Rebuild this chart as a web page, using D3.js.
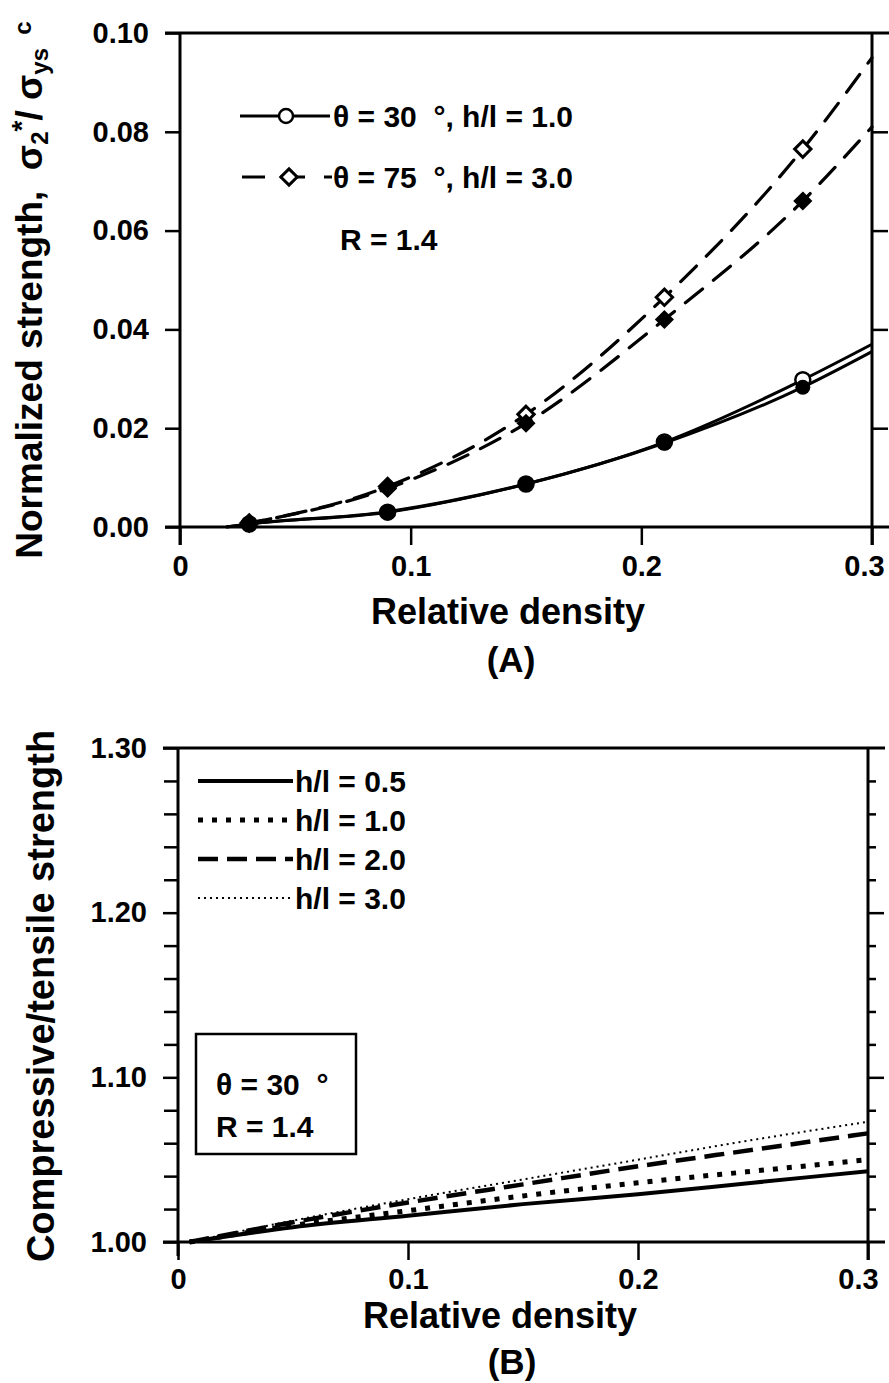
<!DOCTYPE html>
<html>
<head>
<meta charset="utf-8">
<script src="https://cdn.jsdelivr.net/npm/d3@7"></script>
<style>
  html, body { margin: 0; padding: 0; background: #fff; }
  svg { display: block; }
  text { font-family: "Liberation Sans", Arial, Helvetica, sans-serif; font-weight: bold; fill: #000; white-space: pre; }
</style>
</head>
<body>
<svg id="chart" width="889" height="1383"></svg>
<script>
// ---------------- DATA ----------------
// Panel A
const xTicksA = [0, 0.1, 0.2, 0.3];
const xTickLabelsA = ["0", "0.1", "0.2", "0.3"];
const yTicksA = [0, 0.02, 0.04, 0.06, 0.08, 0.10];
const yTickLabelsA = ["0.00", "0.02", "0.04", "0.06", "0.08", "0.10"];

const markerDensity = [0.03, 0.09, 0.15, 0.21, 0.27];
const solidDensity = [0.02, 0.03, 0.09, 0.15, 0.21, 0.27, 0.30];
const theta30Open   = [0, 0.0006, 0.0030, 0.0087, 0.0172, 0.0298, 0.0370];
const theta30Filled = [0, 0.0006, 0.0031, 0.0087, 0.0170, 0.0283, 0.0355];
const dashedDensity = [0.03, 0.09, 0.15, 0.21, 0.27, 0.30];
const theta75Open   = [0.0008, 0.0082, 0.0228, 0.0465, 0.0765, 0.0950];
const theta75Filled = [0.0008, 0.0078, 0.0210, 0.0420, 0.0660, 0.0810];

const legendA = ["\u03B8 = 30  \u00B0, h/l = 1.0", "\u03B8 = 75  \u00B0, h/l = 3.0"];
const noteA = "R = 1.4";

// Panel B
const xTicksB = [0, 0.1, 0.2, 0.3];
const xTickLabelsB = ["0", "0.1", "0.2", "0.3"];
const yMajorB = [1.00, 1.10, 1.20, 1.30];
const yMajorLabelsB = ["1.00", "1.10", "1.20", "1.30"];
const yMinorB = [1.02, 1.04, 1.06, 1.08, 1.12, 1.14, 1.16, 1.18, 1.22, 1.24, 1.26, 1.28];

const densityB = [0.005, 0.05, 0.10, 0.15, 0.20, 0.25, 0.30];
const hl05 = [1.000, 1.009, 1.016, 1.023, 1.029, 1.036, 1.043];
const hl10 = [1.000, 1.010, 1.019, 1.028, 1.036, 1.043, 1.050];
const hl20 = [1.000, 1.012, 1.024, 1.035, 1.046, 1.056, 1.066];
const hl30 = [1.000, 1.013, 1.026, 1.038, 1.050, 1.062, 1.073];
const legendB = ["h/l = 0.5", "h/l = 1.0", "h/l = 2.0", "h/l = 3.0"];
const boxB = ["\u03B8 = 30  \u00B0", "R = 1.4"];

// ---------------- DRAW ----------------
const svg = d3.select("#chart");
svg.append("rect").attr("width", 889).attr("height", 1383).attr("fill", "#fff");

const AX = 3; // axis stroke width

// ===== Panel A =====
const xA = d3.scaleLinear().domain([0, 0.3]).range([180, 872]);
const yA = d3.scaleLinear().domain([0, 0.10]).range([527, 33]);
const gA = svg.append("g");

// frame
gA.append("line").attr("x1", 165).attr("x2", 889).attr("y1", yA(0.10)).attr("y2", yA(0.10)).attr("stroke", "#000").attr("stroke-width", AX);
gA.append("line").attr("x1", 165).attr("x2", 889).attr("y1", yA(0)).attr("y2", yA(0)).attr("stroke", "#000").attr("stroke-width", AX);
gA.append("line").attr("x1", xA(0)).attr("x2", xA(0)).attr("y1", yA(0.10)).attr("y2", yA(0) + 18).attr("stroke", "#000").attr("stroke-width", AX);
gA.append("line").attr("x1", xA(0.3)).attr("x2", xA(0.3)).attr("y1", yA(0.10)).attr("y2", yA(0) + 18).attr("stroke", "#000").attr("stroke-width", AX);

// axes via d3
const yAxisA = d3.axisLeft(yA).tickValues(yTicksA).tickFormat((d, i) => yTickLabelsA[i]).tickSize(15).tickPadding(16);
const ya = gA.append("g").attr("transform", `translate(${xA(0)},0)`).call(yAxisA);
ya.select(".domain").remove();
ya.selectAll(".tick line").attr("stroke-width", 2.5);
ya.selectAll(".tick text").style("font-size", "29px").attr("font-family", null);

const yAxisAR = d3.axisRight(yA).tickValues(yTicksA.slice(1, 5)).tickFormat("").tickSize(16);
const yar = gA.append("g").attr("transform", `translate(${xA(0.3)},0)`).call(yAxisAR);
yar.select(".domain").remove();
yar.selectAll(".tick line").attr("stroke-width", 2.5);

const xAxisA = d3.axisBottom(xA).tickValues(xTicksA).tickFormat((d, i) => xTickLabelsA[i]).tickSize(18).tickPadding(10);
const xa = gA.append("g").attr("transform", `translate(0,${yA(0)})`).call(xAxisA);
xa.select(".domain").remove();
xa.selectAll(".tick line").attr("stroke-width", 2.5);
xa.selectAll(".tick text").style("font-size", "29px").attr("font-family", null);
xa.selectAll(".tick text").filter(d => d === 0.3).attr("dx", -8);

// curves
const lineA = d3.line().x(d => xA(d[0])).y(d => yA(d[1])).curve(d3.curveMonotoneX);
function zip(xs, ys) { return xs.map((x, i) => [x, ys[i]]); }

gA.append("path").attr("d", lineA(zip(solidDensity, theta30Open))).attr("fill", "none").attr("stroke", "#000").attr("stroke-width", 3);
gA.append("path").attr("d", lineA(zip(solidDensity, theta30Filled))).attr("fill", "none").attr("stroke", "#000").attr("stroke-width", 3);
gA.append("path").attr("d", lineA(zip(dashedDensity, theta75Open))).attr("fill", "none").attr("stroke", "#000").attr("stroke-width", 3.2).attr("stroke-dasharray", "22,14").attr("stroke-linecap", "round");
gA.append("path").attr("d", lineA(zip(dashedDensity, theta75Filled))).attr("fill", "none").attr("stroke", "#000").attr("stroke-width", 3.2).attr("stroke-dasharray", "22,14").attr("stroke-dashoffset", 8).attr("stroke-linecap", "round");

function interp(xs, ys, x) { return d3.scaleLinear().domain(xs).range(ys)(x); }
const diamond = d3.symbol().type(d3.symbolDiamond2).size(170);

// open markers first, filled on top
markerDensity.forEach(x => {
  gA.append("circle").attr("cx", xA(x)).attr("cy", yA(interp(solidDensity, theta30Open, x))).attr("r", 7.5).attr("fill", "#fff").attr("stroke", "#000").attr("stroke-width", 2.5);
  gA.append("path").attr("d", diamond).attr("transform", `translate(${xA(x)},${yA(interp(dashedDensity, theta75Open, x))})`).attr("fill", "#fff").attr("stroke", "#000").attr("stroke-width", 3);
});
markerDensity.forEach(x => {
  gA.append("circle").attr("cx", xA(x)).attr("cy", yA(interp(solidDensity, theta30Filled, x))).attr("r", 7.5).attr("fill", "#000");
  gA.append("path").attr("d", diamond).attr("transform", `translate(${xA(x)},${yA(interp(dashedDensity, theta75Filled, x))})`).attr("fill", "#000").attr("stroke", "#000").attr("stroke-width", 2);
});

// legend A
gA.append("line").attr("x1", 240).attr("x2", 330).attr("y1", 116).attr("y2", 116).attr("stroke", "#000").attr("stroke-width", 3);
gA.append("circle").attr("cx", 286).attr("cy", 116).attr("r", 7).attr("fill", "#fff").attr("stroke", "#000").attr("stroke-width", 2.5);
gA.append("text").attr("x", 333).attr("y", 127).style("font-size", "30px").text(legendA[0]);
[[242, 265], [280, 305], [324, 332]].forEach(s => {
  gA.append("line").attr("x1", s[0]).attr("x2", s[1]).attr("y1", 177).attr("y2", 177).attr("stroke", "#000").attr("stroke-width", 3);
});
gA.append("path").attr("d", diamond).attr("transform", "translate(289,177)").attr("fill", "#fff").attr("stroke", "#000").attr("stroke-width", 3);
gA.append("text").attr("x", 333).attr("y", 188).style("font-size", "30px").text(legendA[1]);
gA.append("text").attr("x", 340).attr("y", 250).style("font-size", "30px").text(noteA);

// titles A
gA.append("text").attr("x", 508).attr("y", 624).attr("text-anchor", "middle").style("font-size", "36px").text("Relative density");
gA.append("text").attr("x", 511).attr("y", 672).attr("text-anchor", "middle").style("font-size", "35px").text("(A)");

const tA = gA.append("text").attr("transform", "translate(42,290) rotate(-90)").attr("text-anchor", "middle").style("font-size", "37px");
tA.append("tspan").text("Normalized strength,  \u03C3");
tA.append("tspan").attr("baseline-shift", "-25%").style("font-size", "24px").text("2");
tA.append("tspan").attr("baseline-shift", "40%").style("font-size", "28px").text("*");
tA.append("tspan").text("/ \u03C3");
tA.append("tspan").attr("baseline-shift", "-25%").style("font-size", "24px").text("ys");
tA.append("tspan").attr("baseline-shift", "45%").style("font-size", "24px").text("  c");

// ===== Panel B =====
const xB = d3.scaleLinear().domain([0, 0.3]).range([178, 868]);
const yB = d3.scaleLinear().domain([1.0, 1.3]).range([1242, 748]);
const gB = svg.append("g");

gB.append("line").attr("x1", 163).attr("x2", 885).attr("y1", yB(1.3)).attr("y2", yB(1.3)).attr("stroke", "#000").attr("stroke-width", AX);
gB.append("line").attr("x1", 163).attr("x2", 885).attr("y1", yB(1.0)).attr("y2", yB(1.0)).attr("stroke", "#000").attr("stroke-width", AX);
gB.append("line").attr("x1", xB(0)).attr("x2", xB(0)).attr("y1", yB(1.3)).attr("y2", yB(1.0) + 14).attr("stroke", "#000").attr("stroke-width", AX);
gB.append("line").attr("x1", xB(0.3)).attr("x2", xB(0.3)).attr("y1", yB(1.3)).attr("y2", yB(1.0) + 18).attr("stroke", "#000").attr("stroke-width", AX);

const yAxisB = d3.axisLeft(yB).tickValues(yMajorB).tickFormat((d, i) => yMajorLabelsB[i]).tickSize(15).tickPadding(16);
const yb = gB.append("g").attr("transform", `translate(${xB(0)},0)`).call(yAxisB);
yb.select(".domain").remove();
yb.selectAll(".tick line").attr("stroke-width", 2.5);
yb.selectAll(".tick text").style("font-size", "29px").attr("font-family", null);
const yAxisBm = d3.axisLeft(yB).tickValues(yMinorB).tickFormat("").tickSize(14);
const ybm = gB.append("g").attr("transform", `translate(${xB(0)},0)`).call(yAxisBm);
ybm.select(".domain").remove();
ybm.selectAll(".tick line").attr("stroke-width", 2.5);

const yAxisBR = d3.axisRight(yB).tickValues(yMajorB.slice(1, 3)).tickFormat("").tickSize(16);
const ybr = gB.append("g").attr("transform", `translate(${xB(0.3)},0)`).call(yAxisBR);
ybr.select(".domain").remove();
ybr.selectAll(".tick line").attr("stroke-width", 2.5);
const yAxisBRm = d3.axisRight(yB).tickValues(yMinorB).tickFormat("").tickSize(8);
const ybrm = gB.append("g").attr("transform", `translate(${xB(0.3)},0)`).call(yAxisBRm);
ybrm.select(".domain").remove();
ybrm.selectAll(".tick line").attr("stroke-width", 2.5);

const xAxisB = d3.axisBottom(xB).tickValues(xTicksB).tickFormat((d, i) => xTickLabelsB[i]).tickSize(18).tickPadding(8);
const xb = gB.append("g").attr("transform", `translate(0,${yB(1.0)})`).call(xAxisB);
xb.select(".domain").remove();
xb.selectAll(".tick line").attr("stroke-width", 2.5);
xb.selectAll(".tick text").style("font-size", "29px").attr("font-family", null);
xb.selectAll(".tick text").filter(d => d === 0.3).attr("dx", -10);

const lineB = d3.line().x(d => xB(d[0])).y(d => yB(d[1])).curve(d3.curveMonotoneX);
const stylesB = [
  { w: 4, dash: null },
  { w: 5, dash: "5,9" },
  { w: 4.5, dash: "20,9" },
  { w: 2, dash: "2,4" }
];
[hl05, hl10, hl20, hl30].forEach((ys, i) => {
  const s = stylesB[i];
  const p = gB.append("path").attr("d", lineB(zip(densityB, ys))).attr("fill", "none").attr("stroke", "#000").attr("stroke-width", s.w);
  if (s.dash) p.attr("stroke-dasharray", s.dash);
});

// legend B
const legY = [781, 820, 859, 898];
legendB.forEach((lab, i) => {
  const s = stylesB[i];
  const l = gB.append("line").attr("x1", 198).attr("x2", 293).attr("y1", legY[i]).attr("y2", legY[i]).attr("stroke", "#000").attr("stroke-width", s.w);
  if (s.dash) l.attr("stroke-dasharray", s.dash);
  gB.append("text").attr("x", 295).attr("y", legY[i] + 11).style("font-size", "30px").text(lab);
});

// box
gB.append("rect").attr("x", 196).attr("y", 1034).attr("width", 160).attr("height", 120).attr("fill", "#fff").attr("stroke", "#000").attr("stroke-width", 2.5);
gB.append("text").attr("x", 216).attr("y", 1095).style("font-size", "30px").text(boxB[0]);
gB.append("text").attr("x", 216).attr("y", 1137).style("font-size", "30px").text(boxB[1]);

gB.append("text").attr("x", 500).attr("y", 1328).attr("text-anchor", "middle").style("font-size", "36px").text("Relative density");
gB.append("text").attr("x", 512).attr("y", 1374).attr("text-anchor", "middle").style("font-size", "35px").text("(B)");
gB.append("text").attr("transform", "translate(54,996) rotate(-90)").attr("text-anchor", "middle").style("font-size", "38px").text("Compressive/tensile strength");
</script>
</body>
</html>
